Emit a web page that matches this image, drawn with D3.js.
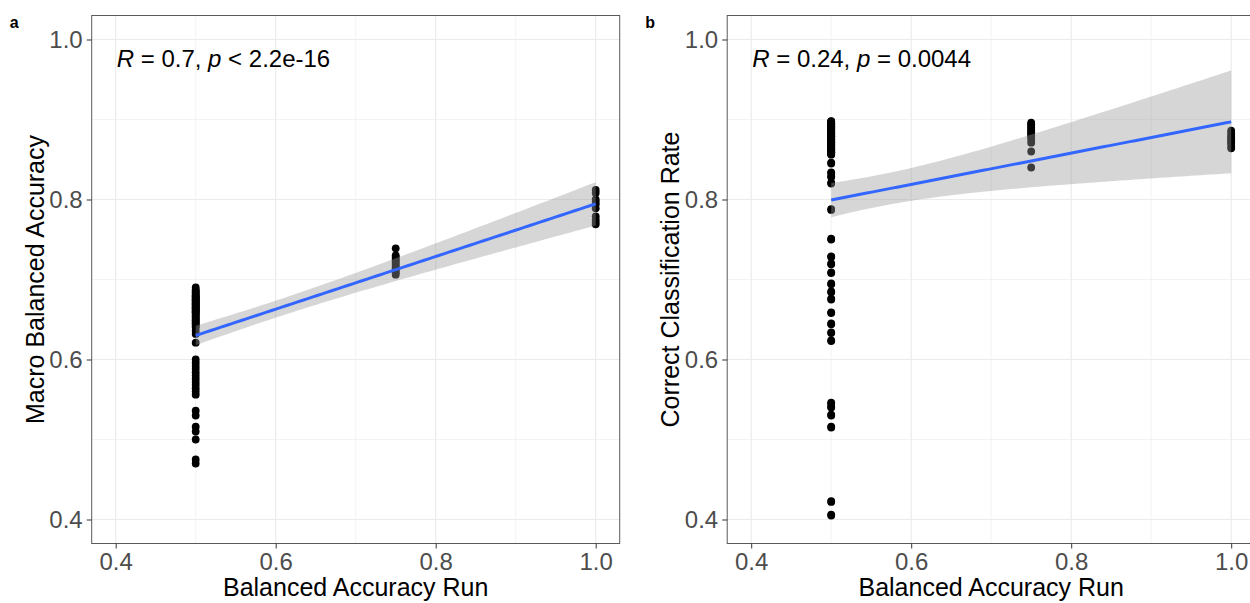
<!DOCTYPE html>
<html>
<head>
<meta charset="utf-8">
<script src="https://cdn.jsdelivr.net/npm/d3@7"></script>
<style>
  body { margin: 0; background: #fff; }
  svg text { font-family: "Liberation Sans", Arial, sans-serif; }
</style>
</head>
<body>
<div id="chart"></div>
<script>
// x levels of the "Balanced Accuracy Run" predictor
const runLevels = [0.5, 0.75, 1.0];

// panel a: Macro Balanced Accuracy, one array per run level
const macroBA_050 = [
  0.690, 0.686, 0.683, 0.680, 0.678, 0.676, 0.674, 0.672, 0.670, 0.668, 0.666, 0.664,
  0.662, 0.660, 0.658, 0.655, 0.652, 0.649, 0.646, 0.643, 0.640, 0.636, 0.632,
  0.687, 0.684, 0.681, 0.679, 0.677, 0.675, 0.673, 0.671, 0.669, 0.667, 0.665, 0.663,
  0.661, 0.659, 0.657, 0.654, 0.651, 0.648, 0.645, 0.642,
  0.621,
  0.600, 0.596, 0.592, 0.588, 0.584, 0.580, 0.576, 0.572, 0.568, 0.564, 0.560, 0.556,
  0.536, 0.530, 0.516, 0.510, 0.500, 0.475, 0.470
];
const macroBA_075 = [0.739, 0.730, 0.728, 0.726, 0.724, 0.722, 0.720, 0.718, 0.716, 0.714, 0.712, 0.710, 0.708, 0.706];
const macroBA_100 = [0.812, 0.808, 0.800, 0.797, 0.794, 0.789, 0.779, 0.775, 0.772, 0.769];

// panel b: Correct Classification Rate (many runs overlap in the top cluster)
const ccr_050 = [
  0.898, 0.897, 0.896, 0.895, 0.894, 0.893, 0.892, 0.891, 0.890, 0.889, 0.888, 0.887,
  0.886, 0.885, 0.884, 0.883, 0.882, 0.881, 0.880, 0.879, 0.878, 0.877, 0.876, 0.875,
  0.874, 0.873, 0.872, 0.871, 0.870, 0.869, 0.868, 0.867, 0.866, 0.865, 0.864, 0.863,
  0.862, 0.861, 0.860, 0.859, 0.858, 0.857, 0.856,
  0.8975, 0.8955, 0.8935, 0.8915, 0.8895, 0.8875, 0.8855, 0.8835, 0.8815, 0.8795, 0.8775,
  0.8755, 0.8735, 0.8715, 0.8695, 0.8675, 0.8655, 0.8635, 0.8615, 0.8595, 0.8575,
  0.895, 0.891, 0.887, 0.883, 0.879, 0.875, 0.871, 0.867, 0.863, 0.859,
  0.846, 0.834, 0.828, 0.821, 0.788, 0.750, 0.729, 0.719, 0.709, 0.694, 0.685, 0.675,
  0.659, 0.644, 0.634, 0.623, 0.546, 0.540, 0.531, 0.515, 0.423, 0.405,
  0.845, 0.833, 0.829, 0.820, 0.787, 0.751, 0.728, 0.720, 0.708, 0.695, 0.684, 0.676,
  0.658, 0.645, 0.633, 0.624, 0.545, 0.541, 0.530, 0.516, 0.422, 0.406
];
const ccr_075 = [0.896, 0.894, 0.892, 0.890, 0.888, 0.886, 0.884, 0.882, 0.880, 0.878, 0.875, 0.871, 0.860, 0.840];
const ccr_100 = [0.886, 0.883, 0.880, 0.878, 0.876, 0.874, 0.872, 0.870, 0.867, 0.864];

const axisTicks = [0.4, 0.6, 0.8, 1.0];
const minorTicks = [0.5, 0.7, 0.9];

const panels = [
  { tag: "a", yTitle: "Macro Balanced Accuracy", groups: [macroBA_050, macroBA_075, macroBA_100],
    stat: [["R", " = 0.7, "], ["p", " < 2.2e-16"]], left: 91.7 },
  { tag: "b", yTitle: "Correct Classification Rate", groups: [ccr_050, ccr_075, ccr_100],
    stat: [["R", " = 0.24, "], ["p", " = 0.0044"]], left: 727.2 }
];

const W = 1250, H = 603;
const panelW = 528, plotTop = 15.5, plotBottom = 543.5;

// two-sided 95% t quantile (Cornish-Fisher style approximation)
function tq(df) {
  const z = 1.959964;
  return z + (z ** 3 + z) / (4 * df) + (5 * z ** 5 + 16 * z ** 3 + 3 * z) / (96 * df * df);
}

// ordinary least squares with confidence band, like geom_smooth(method = "lm")
function fitLm(pts) {
  const n = pts.length;
  const mx = d3.mean(pts, d => d.x), my = d3.mean(pts, d => d.y);
  const sxx = d3.sum(pts, d => (d.x - mx) ** 2);
  const sxy = d3.sum(pts, d => (d.x - mx) * (d.y - my));
  const b = sxy / sxx, a = my - b * mx;
  const sse = d3.sum(pts, d => (d.y - a - b * d.x) ** 2);
  const s = Math.sqrt(sse / (n - 2));
  const t = tq(n - 2);
  return x => {
    const fit = a + b * x;
    const se = s * Math.sqrt(1 / n + (x - mx) ** 2 / sxx);
    return { x, fit, lo: fit - t * se, hi: fit + t * se };
  };
}

const svg = d3.select("#chart").append("svg")
  .attr("width", W).attr("height", H)
  .attr("viewBox", `0 0 ${W} ${H}`);

panels.forEach(p => {
  const x = d3.scaleLinear().domain([0.37, 1.03]).range([p.left, p.left + panelW]);
  const y = d3.scaleLinear().domain([0.37, 1.03]).range([plotBottom, plotTop]);
  const g = svg.append("g");

  const pts = [];
  p.groups.forEach((vals, i) => vals.forEach(v => pts.push({ x: runLevels[i], y: v })));

  // grid
  g.append("g").selectAll("line").data(minorTicks).join("line")
    .attr("x1", d => x(d)).attr("x2", d => x(d)).attr("y1", plotTop).attr("y2", plotBottom)
    .attr("stroke", "#ebebeb").attr("stroke-width", 0.6);
  g.append("g").selectAll("line").data(minorTicks).join("line")
    .attr("y1", d => y(d)).attr("y2", d => y(d)).attr("x1", p.left).attr("x2", p.left + panelW)
    .attr("stroke", "#ebebeb").attr("stroke-width", 0.6);
  g.append("g").selectAll("line").data(axisTicks).join("line")
    .attr("x1", d => x(d)).attr("x2", d => x(d)).attr("y1", plotTop).attr("y2", plotBottom)
    .attr("stroke", "#ebebeb").attr("stroke-width", 1.2);
  g.append("g").selectAll("line").data(axisTicks).join("line")
    .attr("y1", d => y(d)).attr("y2", d => y(d)).attr("x1", p.left).attr("x2", p.left + panelW)
    .attr("stroke", "#ebebeb").attr("stroke-width", 1.2);

  // points
  g.append("g").selectAll("circle").data(pts).join("circle")
    .attr("cx", d => x(d.x)).attr("cy", d => y(d.y)).attr("r", 3.9)
    .attr("fill", "#000");

  // lm fit + 95% band
  const model = fitLm(pts);
  const xs = d3.range(80).map(i => 0.5 + i * 0.5 / 79);
  const band = xs.map(model);
  g.append("path").datum(band)
    .attr("d", d3.area().x(d => x(d.x)).y0(d => y(d.lo)).y1(d => y(d.hi)))
    .attr("fill", "#999999").attr("fill-opacity", 0.4);
  g.append("path").datum(band)
    .attr("d", d3.line().x(d => x(d.x)).y(d => y(d.fit)))
    .attr("fill", "none").attr("stroke", "#3366FF").attr("stroke-width", 3);

  // border
  g.append("rect")
    .attr("x", p.left).attr("y", plotTop).attr("width", panelW).attr("height", plotBottom - plotTop)
    .attr("fill", "none").attr("stroke", "#5a5a5a").attr("stroke-width", 1);

  // axes
  const xa = g.append("g").attr("transform", `translate(0,${plotBottom})`)
    .call(d3.axisBottom(x).tickValues(axisTicks).tickFormat(d3.format(".1f")).tickSize(5).tickPadding(4));
  const ya = g.append("g").attr("transform", `translate(${p.left},0)`)
    .call(d3.axisLeft(y).tickValues(axisTicks).tickFormat(d3.format(".1f")).tickSize(5).tickPadding(4));
  [xa, ya].forEach(a => {
    a.select(".domain").remove();
    a.selectAll(".tick line").attr("stroke", "#333").attr("stroke-width", 1);
    a.selectAll(".tick text").attr("fill", "#4d4d4d").style("font-size", "24px");
  });

  // titles
  g.append("text")
    .attr("x", p.left + panelW / 2).attr("y", 596)
    .attr("text-anchor", "middle").style("font-size", "25px").attr("fill", "#000")
    .text("Balanced Accuracy Run");
  g.append("text")
    .attr("transform", `translate(${p.left - 48},${(plotTop + plotBottom) / 2}) rotate(-90)`)
    .attr("text-anchor", "middle").style("font-size", "25px").attr("fill", "#000")
    .text(p.yTitle);

  // panel tag
  g.append("text")
    .attr("x", p.left - 82).attr("y", 28)
    .style("font-size", "16px").style("font-weight", "bold")
    .text(p.tag);

  // correlation annotation
  const ann = g.append("text")
    .attr("x", p.left + 25).attr("y", 67)
    .style("font-size", "24px").attr("fill", "#000");
  p.stat.forEach(([sym, rest]) => {
    ann.append("tspan").style("font-style", "italic").text(sym);
    ann.append("tspan").text(rest);
  });
});
</script>
</body>
</html>
